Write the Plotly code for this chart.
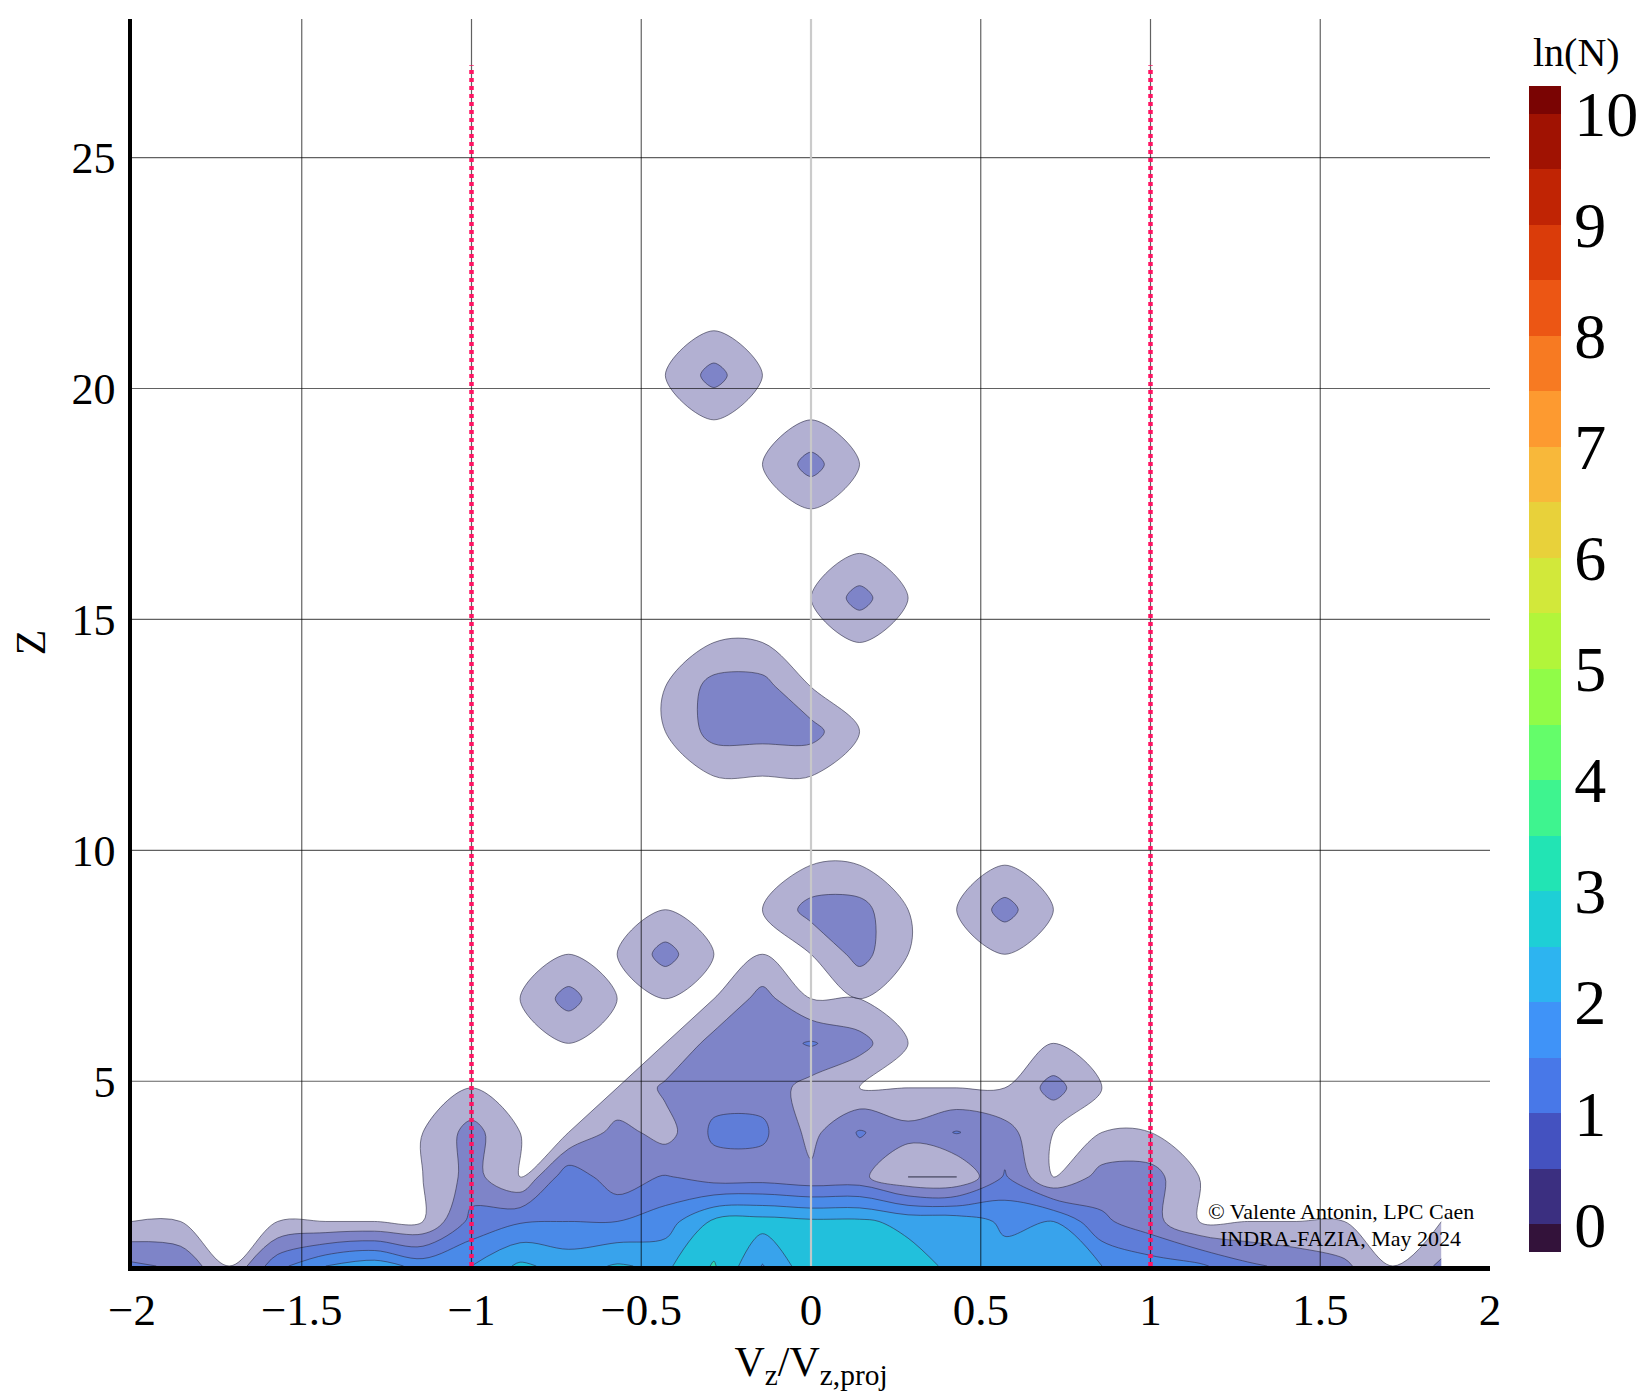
import plotly.graph_objects as go

FONT = "Liberation Serif"

# ---- data: ln(N) on the (Vz/Vz,proj , Z) grid -------------------------------
X_BINS = [-2.0, -1.857, -1.714, -1.571, -1.429, -1.286, -1.143, -1.0, -0.857, -0.714,
          -0.571, -0.429, -0.286, -0.143, 0.0, 0.143, 0.286, 0.429, 0.571, 0.714,
          0.857, 1.0, 1.143, 1.286, 1.429, 1.571, 1.714, 1.857]
Z_BINS = [1.0, 1.964, 2.929, 3.893, 4.857, 5.821, 6.786, 7.75, 8.714, 9.679,
          10.643, 11.607, 12.571, 13.536, 14.5, 15.464, 16.429, 17.393, 18.357, 19.321,
          20.286, 21.25, 22.214, 23.179, 24.143, 25.107, 26.071, 27.036]

E = [0] * 28  # an empty row
LN_N = [
    [1.1, 0.9, 0, 1.35, 2.0, 2.3, 1.8, 2.0, 2.6, 2.3, 2.55, 2.4, 3.05, 1.97, 2.85, 2.9, 2.75, 2.35, 2.2, 2.3, 2.0, 1.75, 1.6, 1.1, 0.85, 0.6, 0, 0.6],
    [0, 0, 0, 0, 0, 0, 0, 1.15, 1.45, 1.5, 1.5, 1.75, 2.6, 2.7, 2.6, 2.6, 2.35, 2.3, 1.9, 2.0, 1.1, 0.7, 0, 0, 0, 0, 0, 0],
    [0, 0, 0, 0, 0, 0, 0, 0.69, 0, 1.35, 0.67, 1.05, 0.75, 0.75, 0.6, 0.63, 0, 0, 1.06, 0, 0.69, 0.71, 0, 0, 0, 0, 0, 0],
    [0, 0, 0, 0, 0, 0, 0, 0.69, 0, 0, 0.69, 0.3, 1.1, 1.1, 0.35, 1.05, 0.67, 1.03, 0.69, 0, 0, 0, 0, 0, 0, 0, 0, 0],
    [0, 0, 0, 0, 0, 0, 0, 0, 0, 0, 0, 0.6, 0.8, 0.8, 0.3, 0, 0, 0, 0, 0.69, 0, 0, 0, 0, 0, 0, 0, 0],
    [0, 0, 0, 0, 0, 0, 0, 0, 0, 0, 0, 0, 0.69, 0.75, 1.05, 0.69, 0, 0, 0, 0, 0, 0, 0, 0, 0, 0, 0, 0],
    [0, 0, 0, 0, 0, 0, 0, 0, 0, 0.69, 0, 0, 0, 0.69, 0, 0, 0, 0, 0, 0, 0, 0, 0, 0, 0, 0, 0, 0],
    [0, 0, 0, 0, 0, 0, 0, 0, 0, 0, 0, 0.69, 0, 0, 0, 0.69, 0, 0, 0, 0, 0, 0, 0, 0, 0, 0, 0, 0],
    [0, 0, 0, 0, 0, 0, 0, 0, 0, 0, 0, 0, 0, 0, 0.69, 0.69, 0, 0, 0.69, 0, 0, 0, 0, 0, 0, 0, 0, 0],
    E, E, E,
    [0, 0, 0, 0, 0, 0, 0, 0, 0, 0, 0, 0, 0.69, 0.69, 0.69, 0, 0, 0, 0, 0, 0, 0, 0, 0, 0, 0, 0, 0],
    [0, 0, 0, 0, 0, 0, 0, 0, 0, 0, 0, 0, 0.69, 0.69, 0, 0, 0, 0, 0, 0, 0, 0, 0, 0, 0, 0, 0, 0],
    E,
    [0, 0, 0, 0, 0, 0, 0, 0, 0, 0, 0, 0, 0, 0, 0, 0.69, 0, 0, 0, 0, 0, 0, 0, 0, 0, 0, 0, 0],
    E, E,
    [0, 0, 0, 0, 0, 0, 0, 0, 0, 0, 0, 0, 0, 0, 0.69, 0, 0, 0, 0, 0, 0, 0, 0, 0, 0, 0, 0, 0],
    E,
    [0, 0, 0, 0, 0, 0, 0, 0, 0, 0, 0, 0, 0.69, 0, 0, 0, 0, 0, 0, 0, 0, 0, 0, 0, 0, 0, 0, 0],
    E, E, E, E, E, E, E,
]

LEVEL_START, LEVEL_END, LEVEL_STEP = 0, 10, 0.5
CB_MIN, CB_MAX = -0.25, 10.25

# fill colours used inside the plot (white below 0, then one per 0.5 band)
PLOT_FILLS = ["#ffffff", "#b2b0d2", "#7e84c8", "#5f7dd8", "#4a8ae8", "#38a3ec",
              "#22c0dc", "#30dcb2", "#4aeb95", "#6ff57a", "#96f95c", "#b6f250",
              "#d2e650", "#e6d250", "#f4ba4e", "#f8a040", "#f48238", "#ea6228",
              "#d84818", "#c0300c", "#a01c08"]
# colour bar (turbo-like steps): below 0, twenty 0.5 bands, above 10
CBAR_COLORS = ["#33123a", "#3b2f80", "#4452c0", "#4878e8", "#3f93f8", "#2db4f0",
               "#1ecfd6", "#22e4b4", "#3ef48f", "#64fd6a", "#90fc48", "#b2f53a",
               "#d2e83a", "#e8d13a", "#f8b83a", "#fd9a30", "#f77a22", "#ec5614",
               "#da3c0a", "#c02404", "#a01202", "#7a0403"]

X_TICKS = [-2, -1.5, -1, -0.5, 0, 0.5, 1, 1.5, 2]
X_TICKTEXT = ["\u22122", "\u22121.5", "\u22121", "\u22120.5", "0", "0.5", "1", "1.5", "2"]
Y_TICKS = [5, 10, 15, 20, 25]
CB_TICKS = [0, 1, 2, 3, 4, 5, 6, 7, 8, 9, 10]
X_RANGE = [-2, 2]
Y_RANGE = [1, 28]
REF_LINES_X = [-1, 1]
REF_LINES_Z = [1, 27]
CREDIT = ["\u00a9 Valente Antonin, LPC Caen", "INDRA-FAZIA, May 2024"]


def step_scale(colors, edges):
    out = []
    for i, c in enumerate(colors):
        out.append([edges[i], c])
        out.append([edges[i + 1], c])
    return out


n_fill = len(PLOT_FILLS)
fill_scale = step_scale(PLOT_FILLS, [i / n_fill for i in range(n_fill + 1)])

cb_edges_z = [CB_MIN] + [LEVEL_START + LEVEL_STEP * i for i in range(21)] + [CB_MAX]
cb_scale = step_scale(CBAR_COLORS, [(v - CB_MIN) / (CB_MAX - CB_MIN) for v in cb_edges_z])

fig = go.Figure()

fig.add_trace(go.Contour(
    x=X_BINS, y=Z_BINS, z=LN_N,
    autocontour=False,
    contours=dict(start=LEVEL_START, end=LEVEL_END, size=LEVEL_STEP, coloring="fill"),
    colorscale=fill_scale,
    line=dict(color="rgba(45,45,70,0.6)", width=1, smoothing=1),
    showscale=False, hoverinfo="skip",
))

# grid lines (drawn over the filled contours)
gx, gy = [], []
for xv in X_TICKS:
    if xv in (X_RANGE[0], X_RANGE[1], 0):
        continue
    gx += [xv, xv, None]
    gy += [Y_RANGE[0], Y_RANGE[1], None]
for yv in Y_TICKS:
    gx += [X_RANGE[0], X_RANGE[1], None]
    gy += [yv, yv, None]
fig.add_trace(go.Scatter(x=gx, y=gy, mode="lines", line=dict(color="rgba(0,0,0,0.62)", width=1.2),
                         hoverinfo="skip", showlegend=False))
# x = 0 axis line (light)
fig.add_trace(go.Scatter(x=[0, 0], y=Y_RANGE, mode="lines", line=dict(color="rgba(200,200,200,0.95)", width=2.2),
                         hoverinfo="skip", showlegend=False))

# red dotted reference lines at Vz/Vz,proj = -1 and 1
for xv in REF_LINES_X:
    fig.add_trace(go.Scatter(x=[xv, xv], y=REF_LINES_Z, mode="lines",
                             line=dict(color="#ff1463", width=4.5, dash="4px,4px"),
                             hoverinfo="skip", showlegend=False))

# colour bar
fig.add_trace(go.Scatter(
    x=[None], y=[None], mode="markers", hoverinfo="skip", showlegend=False,
    marker=dict(color=[0], cmin=CB_MIN, cmax=CB_MAX, colorscale=cb_scale, showscale=True,
                colorbar=dict(
                    x=1.0287, xanchor="left", xpad=0, ypad=0,
                    y=0.4788, yanchor="middle", len=0.935, lenmode="fraction",
                    thickness=32, thicknessmode="pixels", outlinewidth=0,
                    tickvals=CB_TICKS, ticks="", ticklabelposition="outside",
                    tickfont=dict(family=FONT, size=64, color="black"),
                )),
))

# colour-bar title
fig.add_annotation(x=1.064, y=0.973, xref="paper", yref="paper", text="ln(N)", showarrow=False,
                   font=dict(family=FONT, size=40, color="black"), xanchor="center", yanchor="middle")

fig.add_annotation(x=0.89, y=0.0441, xref="paper", yref="paper", text=CREDIT[0], showarrow=False,
                   font=dict(family=FONT, size=22, color="black"), xanchor="center", yanchor="middle")
fig.add_annotation(x=0.89, y=0.0217, xref="paper", yref="paper", text=CREDIT[1], showarrow=False,
                   font=dict(family=FONT, size=22, color="black"), xanchor="center", yanchor="middle")

fig.update_layout(
    width=1645, height=1392,
    margin=dict(l=132, r=155, t=19, b=126, autoexpand=False),
    paper_bgcolor="white", plot_bgcolor="white",
    showlegend=False,
    xaxis=dict(range=X_RANGE, tickvals=X_TICKS, ticktext=X_TICKTEXT, showgrid=False, zeroline=False,
               showline=True, linecolor="black", linewidth=5, ticks="", ticklabelstandoff=0,
               tickfont=dict(family=FONT, size=45, color="black"),
               title=dict(text="V<sub>z</sub>/V<sub>z,proj</sub>", font=dict(family=FONT, size=42, color="black"),
                          standoff=14)),
    yaxis=dict(range=Y_RANGE, tickvals=Y_TICKS, showgrid=False, zeroline=False,
               showline=True, linecolor="black", linewidth=3.5, ticks="", ticklabelstandoff=4,
               tickfont=dict(family=FONT, size=44, color="black"),
               title=dict(text="Z", font=dict(family=FONT, size=42, color="black"), standoff=14)),
)

fig.write_html("out.html")
